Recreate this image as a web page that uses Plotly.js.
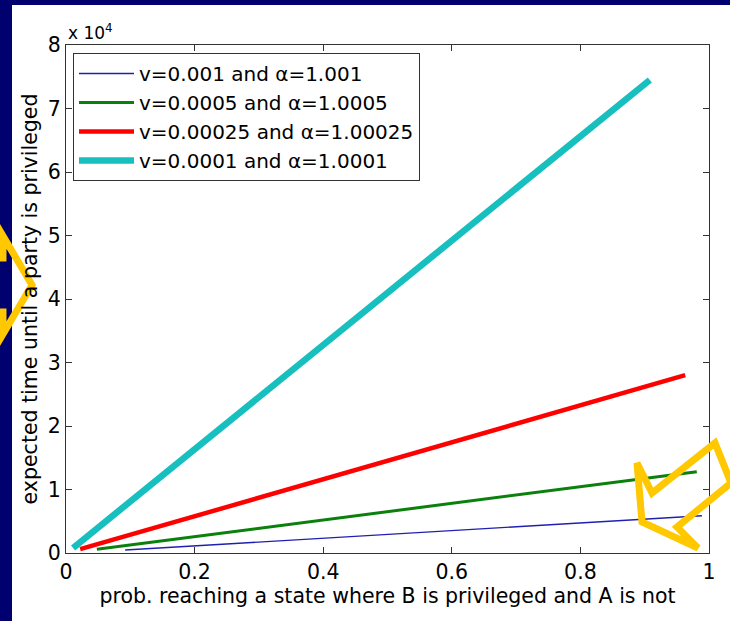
<!DOCTYPE html>
<html>
<head>
<meta charset="utf-8">
<script src="https://cdn.plot.ly/plotly-3.0.1.min.js"></script>
<style>
html,body{margin:0;padding:0;background:#00006e;}
#chart{width:730px;height:621px;}
</style>
</head>
<body>
<div id="chart"></div>
<script>
// ---- data ----
const seriesNames = [
  "v=0.001 and \u03b1=1.001",
  "v=0.0005 and \u03b1=1.0005",
  "v=0.00025 and \u03b1=1.00025",
  "v=0.0001 and \u03b1=1.0001"
];
const blueX  = [0.092, 0.2, 0.3, 0.4, 0.5, 0.6, 0.7, 0.8, 0.9, 0.989];
const blueY  = [470, 1120, 1720, 2320, 2930, 3530, 4130, 4730, 5340, 5870];
const greenX = [0.048, 0.1, 0.2, 0.3, 0.4, 0.5, 0.6, 0.7, 0.8, 0.9, 0.981];
const greenY = [600, 1280, 2590, 3900, 5200, 6510, 7820, 9130, 10430, 11740, 12800];
const redX   = [0.022, 0.1, 0.2, 0.3, 0.4, 0.5, 0.6, 0.7, 0.8, 0.9, 0.963];
const redY   = [600, 2870, 5780, 8690, 11600, 14520, 17430, 20340, 23250, 26170, 28000];
const cyanX  = [0.011, 0.1, 0.2, 0.3, 0.4, 0.5, 0.6, 0.7, 0.8, 0.908];
const cyanY  = [800, 8100, 16300, 24500, 32700, 41000, 49200, 57400, 65600, 74500];
const yTickVals = [0, 10000, 20000, 30000, 40000, 50000, 60000, 70000, 80000];
const yTickText = ["0", "1", "2", "3", "4", "5", "6", "7", "8"];
const xTickVals = [0, 0.2, 0.4, 0.6, 0.8, 1];
const xTickText = ["0", "0.2", "0.4", "0.6", "0.8", "1"];

// ---- layout helpers (pixel -> paper) ----
const W = 730, H = 621, ML = 66, MR = 21, MT = 45, MB = 68;
const PW = W - ML - MR, PH = H - MT - MB;
const px = x => (x - ML) / PW;
const py = y => (H - MB - y) / PH;
function pathOf(pts, close) {
  return pts.map((p, i) => (i ? "L" : "M") + px(p[0]).toFixed(4) + "," + py(p[1]).toFixed(4)).join(" ") + (close ? " Z" : "");
}

const font = "DejaVu Sans, Verdana, sans-serif";
const traces = [
  {x: blueX,  y: blueY,  name: seriesNames[0], line: {color: "#2020b0", width: 1.3}},
  {x: greenX, y: greenY, name: seriesNames[1], line: {color: "#0c800c", width: 3}},
  {x: redX,   y: redY,   name: seriesNames[2], line: {color: "#ff0000", width: 4.5}},
  {x: cyanX,  y: cyanY,  name: seriesNames[3], line: {color: "#17bfbf", width: 6.5}}
].map(t => Object.assign({type: "scatter", mode: "lines"}, t));

const yellow = "#ffc800";
const layout = {
  width: W, height: H,
  margin: {l: ML, r: MR, t: MT, b: MB, pad: 0},
  paper_bgcolor: "#00006e",
  plot_bgcolor: "#ffffff",
  font: {family: font, color: "#000", size: 20.5},
  showlegend: true,
  legend: {
    x: px(73), y: py(53), xanchor: "left", yanchor: "top",
    bgcolor: "#ffffff", bordercolor: "#333", borderwidth: 1,
    font: {family: font, size: 20, color: "#000"},
    itemwidth: 55,
    tracegroupgap: 0
  },
  xaxis: {
    range: [0, 1], tickvals: xTickVals, ticktext: xTickText,
    ticks: "inside", ticklen: 6, tickcolor: "#333", showgrid: false, zeroline: false,
    showline: true, linecolor: "#333", linewidth: 1, mirror: "ticks",
    tickfont: {family: font, size: 20.5, color: "#000"},
    title: {text: "prob. reaching a state where B is privileged and A is not", font: {family: font, size: 20.5, color: "#000"}, standoff: 2}
  },
  yaxis: {
    range: [0, 80000], tickvals: yTickVals, ticktext: yTickText,
    ticks: "inside", ticklen: 6, tickcolor: "#333", showgrid: false, zeroline: false,
    showline: true, linecolor: "#333", linewidth: 1, mirror: "ticks",
    tickfont: {family: font, size: 20.5, color: "#000"},
    title: {text: "expected time until a party is privileged", font: {family: font, size: 20.5, color: "#000"}, standoff: 4}
  },
  annotations: [{
    xref: "paper", yref: "paper", x: px(66), y: py(32), xanchor: "left", yanchor: "middle",
    text: "x 10<sup>4</sup>", showarrow: false, font: {family: font, size: 17, color: "#000"}
  }],
  shapes: [
    {type: "rect", xref: "paper", yref: "paper", layer: "below",
     x0: px(12), x1: px(731), y0: py(622), y1: py(5), fillcolor: "#ffffff", line: {width: 0}},
    {type: "path", xref: "paper", yref: "paper", layer: "above",
     path: pathOf([[-10, 258], [3, 258], [3, 236], [32, 285], [3, 334], [3, 312], [-10, 312]], false),
     line: {color: yellow, width: 7}},
    {type: "path", xref: "paper", yref: "paper", layer: "above",
     path: pathOf([[642, 522], [637, 463], [652, 493], [715, 443], [731, 483], [677, 527], [698, 548]], true),
     line: {color: yellow, width: 7}}
  ]
};

Plotly.newPlot("chart", traces, layout, {displayModeBar: false, staticPlot: true});
</script>
</body>
</html>
